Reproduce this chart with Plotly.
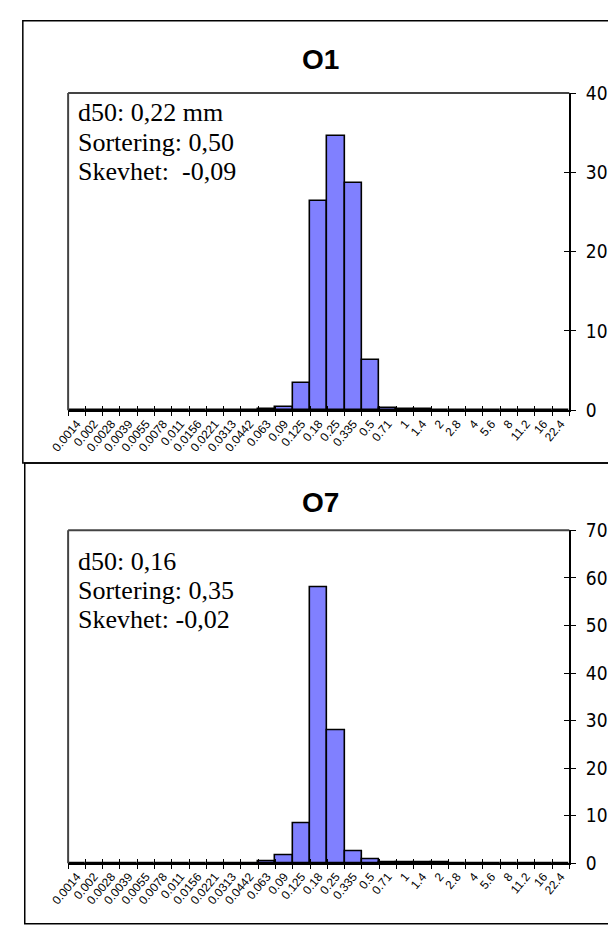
import plotly.graph_objects as go

# ---- data -------------------------------------------------------------
sizes = ["0.0014", "0.002", "0.0028", "0.0039", "0.0055", "0.0078", "0.011",
         "0.0156", "0.0221", "0.0313", "0.0442", "0.063", "0.09", "0.125",
         "0.18", "0.25", "0.335", "0.5", "0.71", "1", "1.4", "2", "2.8", "4",
         "5.6", "8", "11.2", "16", "22.4"]

o1_pct = [0, 0, 0, 0, 0, 0, 0, 0, 0, 0, 0,
          0.15, 0.45, 3.4, 26.4, 34.6, 28.7, 6.4, 0.25, 0.15, 0.1,
          0, 0, 0, 0, 0, 0, 0, 0]

o7_pct = [0, 0, 0, 0, 0, 0, 0, 0, 0, 0, 0,
          0.4, 1.6, 8.4, 58.0, 28.0, 2.4, 0.8, 0.25, 0.25, 0.25, 0.25,
          0, 0, 0, 0, 0, 0, 0]

titles = ["O1", "O7"]
stats_o1 = ["d50: 0,22 mm", "Sortering: 0,50", "Skevhet:\u00a0 -0,09"]
stats_o7 = ["d50: 0,16", "Sortering: 0,35", "Skevhet: -0,02"]
y_max = [40, 70]

# ---- geometry (pixels) -----------------------------------------------
W, H = 608, 925
def px(x):
    return x / W
def py(y):
    return 1 - y / H

x_dom = [px(52), px(572)]
top_dom = [py(409), py(84)]
bot_dom = [py(873), py(532)]

SANS = "Liberation Sans, Arial, sans-serif"
NARROW = "Liberation Sans Narrow, Arial Narrow, DejaVu Sans Condensed, Liberation Sans, sans-serif"
SERIF = "Liberation Serif, Times New Roman, serif"

fig = go.Figure()

bar_style = dict(marker=dict(color="#8080FF", line=dict(color="black", width=1.6)),
                 hoverinfo="x+y", showlegend=False)
fig.add_trace(go.Bar(x=sizes, y=o1_pct, xaxis="x", yaxis="y", **bar_style))
fig.add_trace(go.Bar(x=sizes, y=o7_pct, xaxis="x2", yaxis="y2", **bar_style))
# empty helper traces so the cross-tick overlay axes get drawn
fig.add_trace(go.Scatter(x=[], y=[], xaxis="x3", yaxis="y3", showlegend=False))
fig.add_trace(go.Scatter(x=[], y=[], xaxis="x4", yaxis="y4", showlegend=False))

def xcat(anchor):
    return dict(domain=x_dom, anchor=anchor, type="category",
                categoryorder="array", categoryarray=sizes,
                tickangle=-50, tickson="boundaries", ticks="outside",
                ticklen=4, tickwidth=1, tickcolor="black",
                showline=True, linecolor="black", linewidth=1.5,
                showgrid=False, zeroline=False,
                tickfont=dict(family=SANS, size=12, color="black"),
                fixedrange=True)

def yval(dom, anchor, ymax):
    return dict(domain=dom, anchor=anchor, side="right", range=[0, ymax],
                tick0=0, dtick=10, ticks="outside", ticklen=5, tickwidth=1,
                tickcolor="black", showline=True, linecolor="black",
                linewidth=1.5, showgrid=False, zeroline=False,
                ticklabelstandoff=6,
                tickfont=dict(family=NARROW, size=19, color="black"),
                fixedrange=True)

def xover(over, anchor):
    return dict(overlaying=over, anchor=anchor, side="bottom",
                range=[-0.5, len(sizes) - 0.5], tick0=-0.5, dtick=1,
                ticks="inside", ticklen=4, tickwidth=1, tickcolor="black",
                showticklabels=False, showline=False, showgrid=False,
                zeroline=False, fixedrange=True)

def yover(over, anchor, ymax):
    return dict(overlaying=over, anchor=anchor, side="right",
                range=[0, ymax], tick0=0, dtick=10, ticks="inside",
                ticklen=5, tickwidth=1, tickcolor="black",
                showticklabels=False, showline=False, showgrid=False,
                zeroline=False, fixedrange=True)

shapes = []
# outer panel frames
shapes.append(dict(type="rect", xref="paper", yref="paper",
                   x0=px(5), x1=px(614), y0=py(463), y1=py(10),
                   line=dict(color="black", width=1.5)))
shapes.append(dict(type="rect", xref="paper", yref="paper",
                   x0=px(7), x1=px(614), y0=py(935), y1=py(463),
                   line=dict(color="black", width=1.5)))
# plot-area border (top and left)
for xr, yr in (("x domain", "y domain"), ("x2 domain", "y2 domain")):
    shapes.append(dict(type="line", xref=xr, yref=yr, x0=0, x1=1, y0=1, y1=1,
                       line=dict(color="#444444", width=2)))
    shapes.append(dict(type="line", xref=xr, yref=yr, x0=0, x1=0, y0=0, y1=1,
                       line=dict(color="#444444", width=2)))

annotations = []
for t, yc in zip(titles, (50, 503)):
    annotations.append(dict(text="<b>" + t + "</b>", x=px(314), y=py(yc),
                            xref="paper", yref="paper", xanchor="center",
                            yanchor="middle", showarrow=False,
                            font=dict(family=SANS, size=28, color="black")))
for lines, ys in ((stats_o1, (104, 135, 164)), (stats_o7, (564, 594, 623))):
    for s, yc in zip(lines, ys):
        annotations.append(dict(text=s, x=px(60), y=py(yc), xref="paper",
                                yref="paper", xanchor="left", yanchor="middle",
                                showarrow=False,
                                font=dict(family=SERIF, size=26, color="black")))

fig.update_layout(
    width=W, height=H, margin=dict(l=0, r=0, t=0, b=0),
    paper_bgcolor="white", plot_bgcolor="white",
    bargap=0, showlegend=False,
    xaxis=xcat("y"), yaxis=yval(top_dom, "x", y_max[0]),
    xaxis2=xcat("y2"), yaxis2=yval(bot_dom, "x2", y_max[1]),
    xaxis3=xover("x", "y3"), yaxis3=yover("y", "x3", y_max[0]),
    xaxis4=xover("x2", "y4"), yaxis4=yover("y2", "x4", y_max[1]),
    shapes=shapes, annotations=annotations,
)

fig.write_html("out.html")
